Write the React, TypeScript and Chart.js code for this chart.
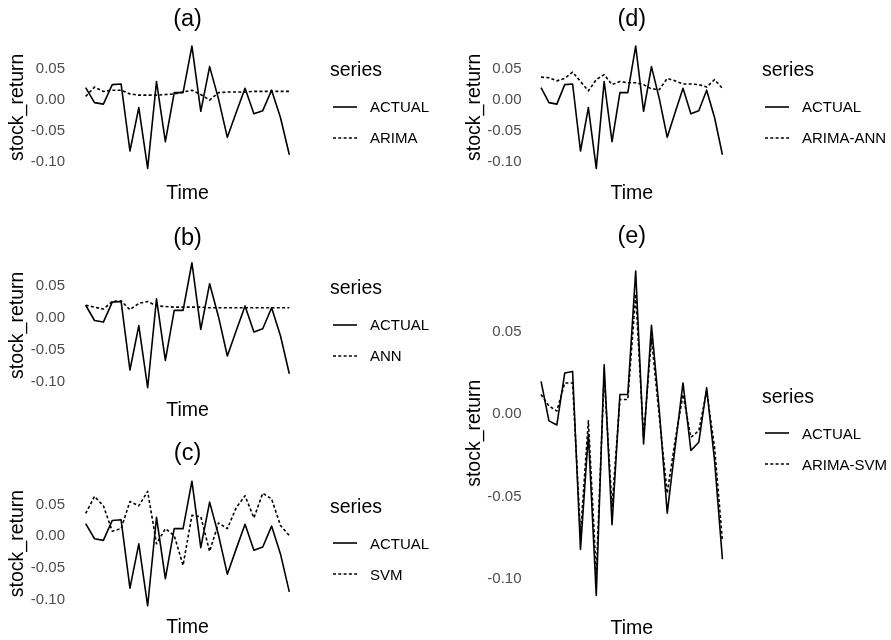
import React, { useEffect, useRef } from "react";
import { Chart, registerables } from "chart.js";

Chart.register(...registerables);

// ---- data ----
const timeIndex = [1, 2, 3, 4, 5, 6, 7, 8, 9, 10, 11, 12, 13, 14, 15, 16, 17, 18, 19, 20, 21, 22, 23, 24];

const actual = [0.020, -0.004, -0.0065, 0.025, 0.026, -0.082, -0.012, -0.110, 0.030, -0.067, 0.012, 0.012, 0.087, -0.018, 0.054, 0.002, -0.060, -0.020, 0.019, -0.022, -0.017, 0.016, -0.028, -0.088];
const arima = [0.006, 0.021, 0.014, 0.016, 0.016, 0.010, 0.008, 0.008, 0.008, 0.009, 0.010, 0.013, 0.016, 0.009, 0.000, 0.012, 0.013, 0.013, 0.013, 0.014, 0.014, 0.014, 0.014, 0.014];
const ann = [0.020, 0.017, 0.014, 0.026, 0.027, 0.013, 0.023, 0.026, 0.019, 0.018, 0.017, 0.017, 0.017, 0.017, 0.016, 0.016, 0.016, 0.016, 0.016, 0.016, 0.016, 0.016, 0.016, 0.016];
const svm = [0.036, 0.063, 0.048, 0.008, 0.012, 0.055, 0.048, 0.071, -0.012, 0.012, 0.001, -0.046, 0.033, 0.031, -0.024, 0.021, 0.012, 0.045, 0.064, 0.029, 0.068, 0.059, 0.017, 0.001];
const arimaAnn = [0.037, 0.036, 0.031, 0.035, 0.045, 0.030, 0.015, 0.033, 0.041, 0.025, 0.030, 0.028, 0.028, 0.025, 0.018, 0.017, 0.035, 0.031, 0.026, 0.026, 0.025, 0.021, 0.033, 0.019];
const arimaSvm = [0.012, 0.005, 0.002, 0.019, 0.019, -0.073, -0.004, -0.097, 0.024, -0.056, 0.009, 0.009, 0.073, -0.014, 0.046, -0.002, -0.048, -0.016, 0.012, -0.014, -0.010, 0.014, -0.020, -0.077];

const yTickValues = [-0.1, -0.05, 0.0, 0.05];
const seriesTitle = "series";
const actualName = "ACTUAL";

const FONT = "'Liberation Sans', Arial, Helvetica, sans-serif";
const TICK_SIZE = 15;
const AXIS_TITLE_SIZE = 19.5;
const PLOT_TITLE_SIZE = 23.5;
const LEGEND_TITLE_SIZE = 19.5;
const LEGEND_TEXT_SIZE = 15;
const LINE_W = 1.6;
const DASH = [3, 2.3];

type Spec = {
  key: string;
  title: string;
  name: string;
  model: number[];
  left: number;
  top: number;
  width: number;
  height: number;
  area: { left: number; right: number; top: number; bottom: number };
  titleY: number;
  timeY: number;
  yTitleX: number;
  tickGap: number;
  legendX: number;
  legendY: number; // absolute center of first item
};

const specs: Spec[] = [
  {
    key: "a", title: "(a)", name: "ARIMA", model: arima,
    left: 0, top: 0, width: 445, height: 213,
    area: { left: 75.5, right: 299.5, top: 40, bottom: 174.5 },
    titleY: 20, timeY: 194, yTitleX: 17.5, tickGap: 10.5,
    legendX: 330, legendY: 106.5,
  },
  {
    key: "b", title: "(b)", name: "ANN", model: ann,
    left: 0, top: 213, width: 445, height: 214,
    area: { left: 75.5, right: 299.5, top: 43.5, bottom: 181 },
    titleY: 25.5, timeY: 197.5, yTitleX: 17.5, tickGap: 10.5,
    legendX: 330, legendY: 324.5,
  },
  {
    key: "c", title: "(c)", name: "SVM", model: svm,
    left: 0, top: 427, width: 445, height: 213,
    area: { left: 75.5, right: 299.5, top: 48, bottom: 185 },
    titleY: 27, timeY: 201, yTitleX: 17.5, tickGap: 10.5,
    legendX: 330, legendY: 543,
  },
  {
    key: "d", title: "(d)", name: "ARIMA-ANN", model: arimaAnn,
    left: 445, top: 0, width: 446, height: 213,
    area: { left: 87, right: 286.5, top: 40, bottom: 174.5 },
    titleY: 20, timeY: 193.5, yTitleX: 30, tickGap: 10.5,
    legendX: 762, legendY: 106.5,
  },
  {
    key: "e", title: "(e)", name: "ARIMA-SVM", model: arimaSvm,
    left: 445, top: 213, width: 446, height: 427,
    area: { left: 87, right: 286.5, top: 41.7, bottom: 398.7 },
    titleY: 24, timeY: 416, yTitleX: 30, tickGap: 10.5,
    legendX: 762, legendY: 433,
  },
];

function Panel({ spec }: { spec: Spec }) {
  const ref = useRef<HTMLCanvasElement | null>(null);
  useEffect(() => {
    if (!ref.current) return;
    const all = [...actual, ...spec.model];
    const lo = Math.min(...all);
    const hi = Math.max(...all);
    const yPad = (hi - lo) * 0.05;
    const xPad = (timeIndex[timeIndex.length - 1] - timeIndex[0]) * 0.05;
    const W = spec.width;
    const H = spec.height;
    const a = spec.area;
    const chart = new Chart(ref.current, {
      type: "line",
      data: {
        datasets: [
          {
            label: spec.name,
            data: timeIndex.map((t, i) => ({ x: t, y: spec.model[i] })),
            borderColor: "#000",
            backgroundColor: "#000",
            borderWidth: LINE_W,
            borderDash: DASH,
            borderJoinStyle: "round",
            pointRadius: 0,
            fill: false,
            tension: 0,
          },
          {
            label: actualName,
            data: timeIndex.map((t, i) => ({ x: t, y: actual[i] })),
            borderColor: "#000",
            backgroundColor: "#000",
            borderWidth: LINE_W,
            borderJoinStyle: "round",
            pointRadius: 0,
            fill: false,
            tension: 0,
          },
        ],
      },
      options: {
        animation: false,
        responsive: false,
        devicePixelRatio: 1,
        events: [],
        layout: { padding: { left: 0, top: 0, right: W - a.right, bottom: 0 } },
        plugins: {
          legend: { display: false },
          tooltip: { enabled: false },
          title: {
            display: true,
            text: spec.title,
            fullSize: false,
            color: "#000",
            font: { family: FONT, size: PLOT_TITLE_SIZE, lineHeight: 1, weight: "normal" },
            padding: {
              top: spec.titleY - PLOT_TITLE_SIZE / 2,
              bottom: a.top - spec.titleY - PLOT_TITLE_SIZE / 2,
            },
          },
        },
        scales: {
          x: {
            type: "linear",
            min: timeIndex[0] - xPad,
            max: timeIndex[timeIndex.length - 1] + xPad,
            ticks: { display: false },
            grid: { display: false, drawTicks: false },
            border: { display: false },
            title: {
              display: true,
              text: "Time",
              color: "#000",
              font: { family: FONT, size: AXIS_TITLE_SIZE, lineHeight: 1 },
              padding: { top: 0, bottom: H - spec.timeY - AXIS_TITLE_SIZE / 2 },
            },
            afterFit: (s: any) => {
              s.height = H - a.bottom;
            },
          },
          y: {
            type: "linear",
            min: lo - yPad,
            max: hi + yPad,
            afterBuildTicks: (s: any) => {
              s.ticks = yTickValues.map((v) => ({ value: v }));
            },
            ticks: {
              color: "#4D4D4D",
              font: { family: FONT, size: TICK_SIZE },
              padding: spec.tickGap,
              callback: (v: any) => Number(v).toFixed(2),
            },
            grid: { display: false, drawTicks: false },
            border: { display: false },
            title: {
              display: true,
              text: "stock_return",
              color: "#000",
              font: { family: FONT, size: AXIS_TITLE_SIZE, lineHeight: 1 },
              padding: { top: spec.yTitleX - AXIS_TITLE_SIZE / 2, bottom: 0 },
            },
            afterFit: (s: any) => {
              s.width = a.left;
            },
          },
        },
      } as any,
    });
    return () => chart.destroy();
  }, [spec]);

  return (
    <canvas
      ref={ref}
      width={spec.width}
      height={spec.height}
      style={{ position: "absolute", left: spec.left, top: spec.top, width: spec.width, height: spec.height }}
    />
  );
}

function Legend({ spec }: { spec: Spec }) {
  const items = [
    { name: actualName, dash: undefined as string | undefined },
    { name: spec.name, dash: DASH.join(" ") },
  ];
  const x = spec.legendX;
  const cy = spec.legendY;
  return (
    <>
      <div
        style={{
          position: "absolute",
          left: x,
          top: cy - 35 - 0.586 * LEGEND_TITLE_SIZE,
          fontSize: LEGEND_TITLE_SIZE,
          lineHeight: `${LEGEND_TITLE_SIZE}px`,
          color: "#000",
          whiteSpace: "nowrap",
        }}
      >
        {seriesTitle}
      </div>
      {items.map((it, i) => {
        const y = cy + i * 31;
        return (
          <React.Fragment key={it.name}>
            <svg
              width={24}
              height={6}
              style={{ position: "absolute", left: x + 2.5, top: y - 3, overflow: "visible" }}
            >
              <line x1={0} y1={3} x2={24} y2={3} stroke="#000" strokeWidth={LINE_W} strokeDasharray={it.dash} />
            </svg>
            <div
              style={{
                position: "absolute",
                left: x + 40,
                top: y - 0.49 * LEGEND_TEXT_SIZE,
                fontSize: LEGEND_TEXT_SIZE,
                lineHeight: `${LEGEND_TEXT_SIZE}px`,
                color: "#000",
                whiteSpace: "nowrap",
              }}
            >
              {it.name}
            </div>
          </React.Fragment>
        );
      })}
    </>
  );
}

export default function App() {
  return (
    <div
      style={{
        position: "absolute",
        left: 0,
        top: 0,
        width: 891,
        height: 640,
        background: "#fff",
        fontFamily: FONT,
        overflow: "hidden",
      }}
    >
      {specs.map((s) => (
        <Panel key={s.key} spec={s} />
      ))}
      {specs.map((s) => (
        <Legend key={"l" + s.key} spec={s} />
      ))}
    </div>
  );
}
